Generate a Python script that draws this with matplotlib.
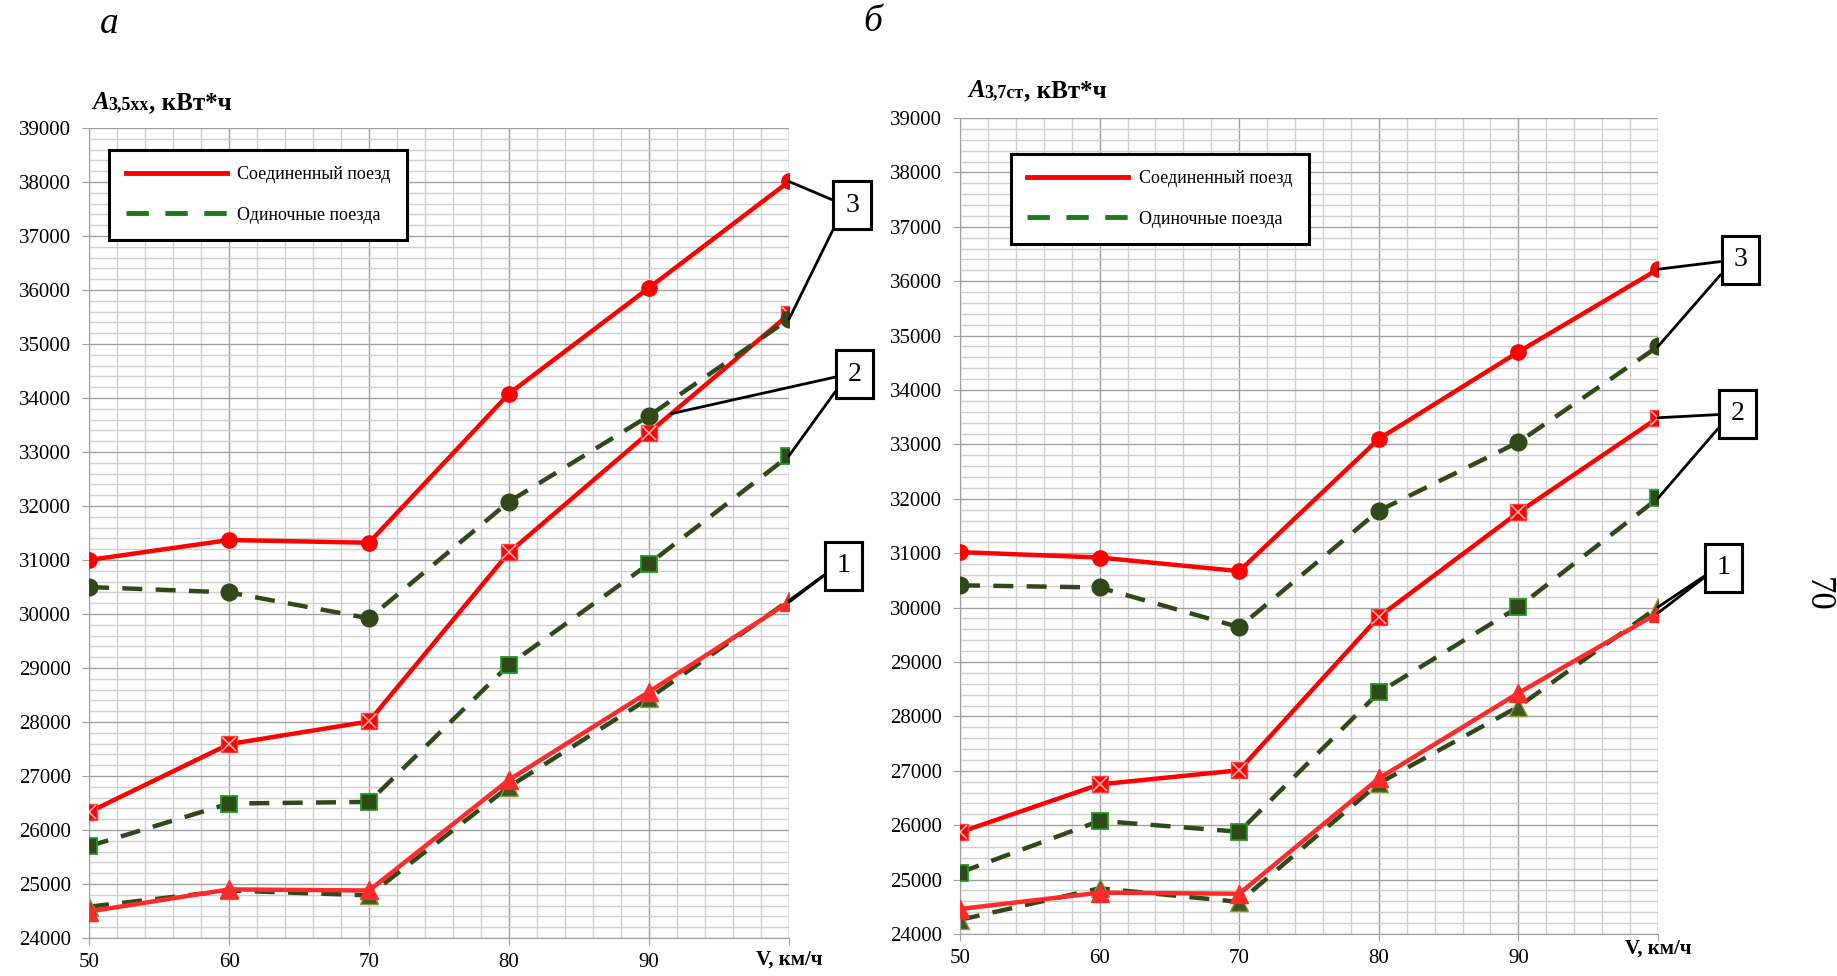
import numpy as np
import matplotlib
matplotlib.use("Agg")
import matplotlib.pyplot as plt
from matplotlib.lines import Line2D
from matplotlib.ticker import MultipleLocator
from matplotlib.offsetbox import TextArea, HPacker, AnchoredOffsetbox

plt.rcParams['font.family'] = ['Liberation Serif', 'DejaVu Serif']

speed = [50, 60, 70, 80, 90, 100]

# panel a: A 3,5xx
a_joint_3 = [31000, 31370, 31320, 34080, 36040, 38010]
a_single_3 = [30500, 30400, 29920, 32080, 33670, 35460]
a_joint_2 = [26330, 27590, 28010, 31140, 33360, 35550]
a_single_2 = [25700, 26490, 26520, 29060, 30930, 32930]
a_joint_1 = [24490, 24900, 24880, 26930, 28560, 30220]
a_single_1 = [24580, 24880, 24790, 26800, 28440, 30250]

# panel b: A 3,7ст
b_joint_3 = [31020, 30920, 30670, 33100, 34700, 36220]
b_single_3 = [30410, 30370, 29640, 31780, 33040, 34800]
b_joint_2 = [25870, 26750, 27010, 29830, 31750, 33490]
b_single_2 = [25130, 26080, 25880, 28440, 30010, 32010]
b_joint_1 = [24460, 24760, 24740, 26860, 28430, 29900]
b_single_1 = [24260, 24840, 24590, 26770, 28180, 30010]

legend_labels = ['Соединенный поезд', 'Одиночные поезда']
xtick_labels = ['50', '60', '70', '80', '90', '']
x_title = 'V, км/ч'

RED = '#ff0000'
RED_TRI = '#ff2a2a'
OLIVE = '#2f4a18'
GREEN_EDGE = '#1f9a1f'


def joint(ax, y, kind):
    if kind == 3:
        ax.plot(speed, y, color=RED, lw=3.2, marker='o', ms=11, mfc=RED, mec=RED, zorder=3)
    elif kind == 2:
        ax.plot(speed, y, color=RED, lw=3.2, marker='s', ms=11.5, mfc=RED, mec='#ff4040', zorder=3)
        ax.plot(speed, y, ls='none', marker='x', ms=10, mec='#ffb0b0', mew=1.2, zorder=3.1)
    else:
        ax.plot(speed, y, color=RED_TRI, lw=3.2, marker='^', ms=13, mfc=RED_TRI, mec=RED_TRI, zorder=3)


def single(ax, y, kind):
    style = dict(color=OLIVE, lw=3.2, ls=(0, (4.5, 3)))
    if kind == 3:
        ax.plot(speed, y, marker='o', ms=12, mfc=OLIVE, mec=OLIVE, zorder=4, **style)
    elif kind == 2:
        ax.plot(speed, y, marker='s', ms=11.5, mfc=OLIVE, mec=GREEN_EDGE, mew=1.3, zorder=4, **style)
    else:
        ax.plot(speed, y, marker='^', ms=13, mfc='#3b5a1c', mec='#8c9a3c', mew=1, zorder=2, **style)


def setup(ax):
    ax.set_xlim(50, 100)
    ax.set_ylim(24000, 39000)
    ax.xaxis.set_major_locator(MultipleLocator(10))
    ax.xaxis.set_minor_locator(MultipleLocator(2))
    ax.yaxis.set_major_locator(MultipleLocator(1000))
    ax.yaxis.set_minor_locator(MultipleLocator(200))
    ax.grid(which='minor', color='#cfcfcf', lw=1.0)
    ax.grid(which='major', color='#a0a0a0', lw=1.0)
    ax.set_axisbelow(True)
    ax.set_xticks(speed)
    ax.set_xticklabels(xtick_labels)
    ax.tick_params(which='major', direction='out', length=5, color='#a0a0a0',
                   labelsize=15, pad=6)
    ax.tick_params(axis='y', pad=8)
    ax.tick_params(which='minor', length=0)
    for s in ax.spines.values():
        s.set_color('#a0a0a0')
    ax.spines['top'].set_visible(False)
    ax.spines['right'].set_visible(False)


def legend(ax, x, y):
    handles = [Line2D([], [], color=RED, lw=3.5),
               Line2D([], [], color='#1a7a1a', lw=3.5, ls=(0, (4.6, 3.4)))]
    leg = ax.legend(handles, legend_labels, loc='upper left', bbox_to_anchor=(x, y),
                    fontsize=13, handlelength=5.6, handletextpad=0.6, borderaxespad=0,
                    labelspacing=1.3, borderpad=0.9, fancybox=False, framealpha=1)
    leg.get_frame().set_edgecolor('black')
    leg.get_frame().set_linewidth(2.2)
    leg.set_zorder(10)


def callout(ax, text, pos, targets):
    for t in targets:
        ax.annotate(text, xy=t, xytext=pos, textcoords='data', fontsize=20,
                    ha='center', va='center', annotation_clip=False,
                    bbox=dict(boxstyle='square,pad=0.42', fc='white', ec='black', lw=2.2),
                    arrowprops=dict(arrowstyle='-', color='black', lw=2,
                                    relpos=(0, 0.5), shrinkA=0, shrinkB=0),
                    zorder=11)


def axis_title(fig, sub, x, y):
    parts = [TextArea('A', textprops=dict(fontsize=18, fontweight='bold', fontstyle='italic')),
             TextArea(sub, textprops=dict(fontsize=13, fontweight='bold')),
             TextArea(', кВт*ч', textprops=dict(fontsize=18, fontweight='bold'))]
    box = HPacker(children=parts, align='baseline', pad=0, sep=0)
    anch = AnchoredOffsetbox(loc='lower left', child=box, pad=0, borderpad=0, frameon=False,
                             bbox_to_anchor=(x, y), bbox_transform=fig.transFigure)
    fig.add_artist(anch)


fig = plt.figure(figsize=(18.37, 9.76), dpi=100)
ax1 = fig.add_axes([0.04845, 0.03893, 0.38106, 0.82992])
ax2 = fig.add_axes([0.52259, 0.04303, 0.37997, 0.83607])

for ax in (ax1, ax2):
    setup(ax)

joint(ax1, a_joint_3, 3)
joint(ax1, a_joint_2, 2)
joint(ax1, a_joint_1, 1)
single(ax1, a_single_3, 3)
single(ax1, a_single_2, 2)
single(ax1, a_single_1, 1)

joint(ax2, b_joint_3, 3)
joint(ax2, b_joint_2, 2)
joint(ax2, b_joint_1, 1)
single(ax2, b_single_3, 3)
single(ax2, b_single_2, 2)
single(ax2, b_single_1, 1)

legend(ax1, 0.029, 0.973)
legend(ax2, 0.073, 0.956)

# numbered callouts to the curve groups
callout(ax1, '3', (104.5, 37570), [(100, a_joint_3[-1]), (100, a_single_3[-1])])
callout(ax1, '2', (104.7, 34440), [(91.6, 33710), (100, a_single_2[-1])])
callout(ax1, '1', (103.9, 30890), [(100, a_joint_1[-1]), (100, a_single_1[-1])])
callout(ax2, '3', (105.9, 36390), [(100, b_joint_3[-1]), (100, b_single_3[-1])])
callout(ax2, '2', (105.7, 33560), [(100, b_joint_2[-1]), (100, b_single_2[-1])])
callout(ax2, '1', (104.7, 30730), [(100, b_joint_1[-1]), (100, b_single_1[-1])])

ax1.text(100, -0.027, x_title, transform=ax1.get_xaxis_transform(), ha='center',
         va='center', fontsize=15, fontweight='bold')
ax2.text(100, -0.018, x_title, transform=ax2.get_xaxis_transform(), ha='center',
         va='center', fontsize=15, fontweight='bold')

axis_title(fig, '3,5хх', 92 / 1837, 1 - 114 / 976)
axis_title(fig, '3,7ст', 968 / 1837, 1 - 102 / 976)

fig.text(109 / 1837, 1 - 24 / 976, 'а', fontsize=27, fontstyle='italic', ha='center', va='center')
fig.text(873 / 1837, 1 - 22 / 976, 'б', fontsize=27, fontstyle='italic', ha='center', va='center')
fig.text(1817 / 1837, 1 - 594 / 976, '70', fontsize=25, rotation=270, ha='center', va='center')

fig.savefig('out.png', dpi=100)
